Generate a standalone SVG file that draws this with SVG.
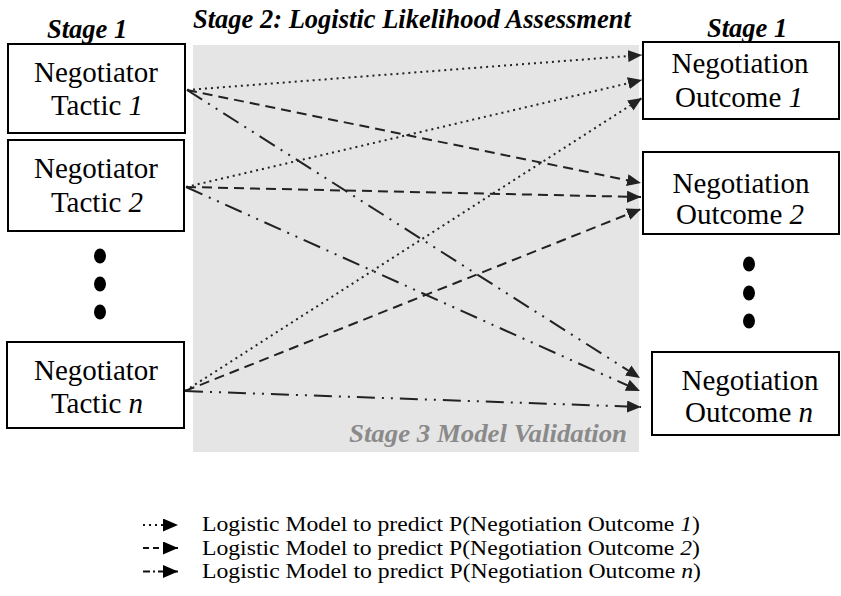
<svg xmlns="http://www.w3.org/2000/svg" width="841" height="596" viewBox="0 0 841 596">
<defs>
<marker id="ah" markerUnits="userSpaceOnUse" markerWidth="14" markerHeight="12" refX="14" refY="6" orient="auto">
<path d="M0,0 L14,6 L0,12 z" fill="#222"/>
</marker>
<marker id="ahl" markerUnits="userSpaceOnUse" markerWidth="15" markerHeight="13" refX="15" refY="6.5" orient="auto">
<path d="M0,0 L15,6.5 L0,13 z" fill="#000"/>
</marker>
<style>
text{font-family:'Liberation Serif',serif}
.box{fill:#fff;stroke:#000;stroke-width:2}
.nt{font-size:29px;fill:#000;text-anchor:middle}
.hd{font-size:26.5px;font-weight:bold;font-style:italic;fill:#000}
.lg{font-size:20px;fill:#000}
.c{fill:none;stroke:#222;stroke-width:2;marker-end:url(#ah)}
.l{fill:none;stroke:#111;stroke-width:2;marker-end:url(#ahl)}
.dot{stroke-dasharray:2,4}
.dash{stroke-dasharray:10,6}
.dd{stroke-dasharray:18,7,2,7,2,7}
.ldash{stroke-dasharray:6,4}
.ldd{stroke-dasharray:7,3,2,3}
.it{font-style:italic}
</style>
</defs>
<rect x="193" y="45" width="446" height="407" fill="#e5e5e5"/>
<text class="hd" x="193" y="28">Stage 2: Logistic Likelihood Assessment</text>
<text class="hd" x="47" y="38">Stage 1</text>
<text class="hd" x="707" y="37">Stage 1</text>
<text class="hd" x="349" y="442" style="fill:#8a8a8a;font-size:26px" textLength="278" lengthAdjust="spacingAndGlyphs">Stage 3 Model Validation</text>
<g id="connectors">
<line class="c dot" x1="187" y1="90" x2="642" y2="55"/>
<line class="c dot" x1="186" y1="187" x2="642" y2="80"/>
<line class="c dot" x1="185" y1="391" x2="642" y2="98"/>
<line class="c dash" x1="187" y1="90" x2="641" y2="183"/>
<line class="c dash" x1="186" y1="187" x2="641" y2="197"/>
<line class="c dash" x1="185" y1="391" x2="641" y2="209"/>
<line class="c dd" x1="187" y1="90" x2="640" y2="378"/>
<line class="c dd" x1="186" y1="187" x2="640" y2="391"/>
<line class="c dd" x1="185" y1="391" x2="641" y2="407"/>
</g>
<g id="tactic1">
<rect class="box" x="8" y="44" width="177" height="89"/>
<text class="nt" x="96" y="82">Negotiator</text>
<text class="nt" x="97" y="115">Tactic <tspan class="it">1</tspan></text>
</g>
<g id="tactic2">
<rect class="box" x="8" y="140" width="176" height="91"/>
<text class="nt" x="96" y="178">Negotiator</text>
<text class="nt" x="97" y="212">Tactic <tspan class="it">2</tspan></text>
</g>
<g id="dotsLeft">
<ellipse cx="100" cy="256" rx="6" ry="7.5"/>
<ellipse cx="100" cy="284" rx="6" ry="7.5"/>
<ellipse cx="100" cy="312" rx="6" ry="7.5"/>
</g>
<g id="tacticN">
<rect class="box" x="7" y="342" width="177" height="86"/>
<text class="nt" x="96" y="380">Negotiator</text>
<text class="nt" x="97" y="413">Tactic <tspan class="it">n</tspan></text>
</g>
<g id="outcome1">
<rect class="box" x="643" y="42" width="196" height="77"/>
<text class="nt" x="740" y="73">Negotiation</text>
<text class="nt" x="739" y="107">Outcome <tspan class="it">1</tspan></text>
</g>
<g id="outcome2">
<rect class="box" x="643" y="152" width="196" height="82"/>
<text class="nt" x="741" y="193">Negotiation</text>
<text class="nt" x="740" y="224">Outcome <tspan class="it">2</tspan></text>
</g>
<g id="dotsRight">
<ellipse cx="749" cy="264" rx="6" ry="7.5"/>
<ellipse cx="749" cy="293" rx="6" ry="7.5"/>
<ellipse cx="749" cy="321" rx="6" ry="7.5"/>
</g>
<g id="outcomeN">
<rect class="box" x="652" y="352" width="187" height="83"/>
<text class="nt" x="750" y="390">Negotiation</text>
<text class="nt" x="749" y="422">Outcome <tspan class="it">n</tspan></text>
</g>
<g id="legend">
<line class="l dot" x1="143" y1="525" x2="178" y2="525"/>
<line class="l ldash" x1="143" y1="548" x2="178" y2="548"/>
<line class="l ldd" x1="143" y1="571.5" x2="178" y2="571.5"/>
<text class="lg" x="202" y="531" textLength="498" lengthAdjust="spacingAndGlyphs">Logistic Model to predict P(Negotiation Outcome <tspan class="it">1</tspan>)</text>
<text class="lg" x="202" y="554.5" textLength="498" lengthAdjust="spacingAndGlyphs">Logistic Model to predict P(Negotiation Outcome <tspan class="it">2</tspan>)</text>
<text class="lg" x="202" y="578" textLength="499" lengthAdjust="spacingAndGlyphs">Logistic Model to predict P(Negotiation Outcome <tspan class="it">n</tspan>)</text>
</g>
</svg>
